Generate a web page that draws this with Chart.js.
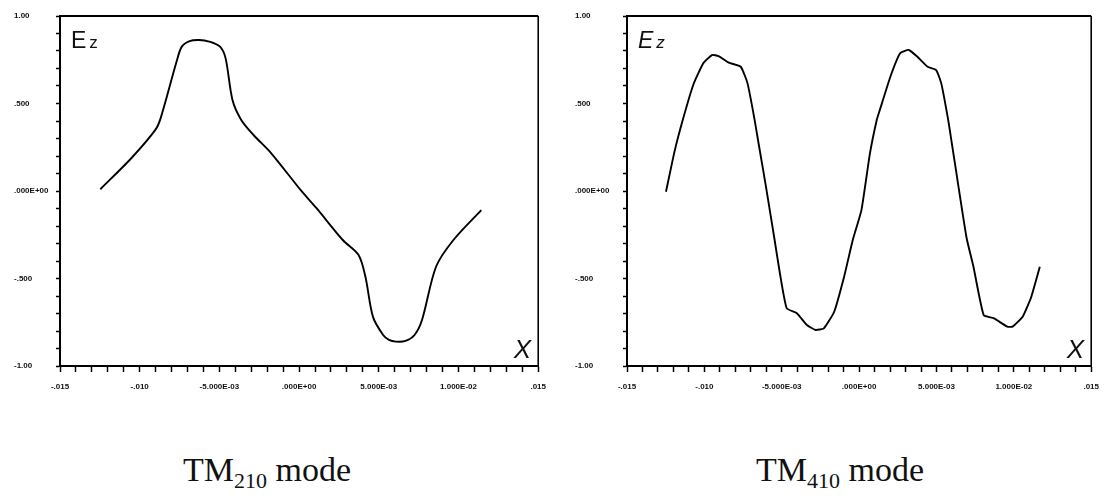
<!DOCTYPE html>
<html>
<head>
<meta charset="utf-8">
<script src="https://cdn.jsdelivr.net/npm/chart.js@4.4.1/dist/chart.umd.min.js"></script>
<style>
  html, body { margin: 0; padding: 0; background: #fff; width: 1109px; height: 502px; overflow: hidden; }
  .box { position: absolute; top: 0; height: 410px; }
  .cap { position: absolute; top: 451px; font-family: "Liberation Serif", "DejaVu Serif", serif; font-size: 34px; color: #111; white-space: nowrap; }
  .cap sub { font-size: 22px; vertical-align: -7px; line-height: 0; }
</style>
</head>
<body>
<div class="box" style="left:0;width:556px;"><canvas id="c1" width="556" height="410"></canvas></div>
<div class="box" style="left:556px;width:553px;"><canvas id="c2" width="553" height="410"></canvas></div>
<div class="cap" style="left:183px;">TM<sub>210</sub> mode</div>
<div class="cap" style="left:756px;">TM<sub>410</sub> mode</div>
<script>
// ---- data ----
const xTickLabels = ['-.015', '-.010', '-5.000E-03', '.000E+00', '5.000E-03', '1.000E-02', '.015'];
const yTickLabels = ['-1.00', '-.500', '.000E+00', '.500', '1.00'];
const captions = ['TM210 mode', 'TM410 mode'];

const leftX = [-0.01247, -0.01050, -0.00902, -0.00869, -0.00769, -0.00736, -0.00687, -0.00627, -0.00564, -0.00496, -0.00461, -0.00418, -0.00363, -0.00286, -0.00176, 0.00009, 0.00108, 0.00274, 0.00373, 0.00416, 0.00463, 0.00527, 0.00564, 0.00607, 0.00668, 0.00724, 0.00771, 0.00859, 0.00968, 0.01143];
const leftY = [0.010, 0.190, 0.349, 0.415, 0.739, 0.825, 0.857, 0.863, 0.854, 0.825, 0.758, 0.520, 0.406, 0.320, 0.217, 0.006, -0.097, -0.280, -0.366, -0.490, -0.718, -0.823, -0.851, -0.861, -0.857, -0.823, -0.737, -0.433, -0.280, -0.109];

const rightX = [-0.01248, -0.01193, -0.01138, -0.01072, -0.01007, -0.00951, -0.00908, -0.00842, -0.00765, -0.00721, -0.00677, -0.00646, -0.00602, -0.00546, -0.00512, -0.00468, -0.00402, -0.00337, -0.00282, -0.00228, -0.00161, -0.00097, -0.00041, 0.00015, 0.00070, 0.00114, 0.00134, 0.00202, 0.00265, 0.00321, 0.00377, 0.00443, 0.00498, 0.00531, 0.00574, 0.00596, 0.00639, 0.00695, 0.00739, 0.00805, 0.00870, 0.00957, 0.00992, 0.01057, 0.01113, 0.01168];
const rightY = [-0.004, 0.225, 0.411, 0.606, 0.730, 0.777, 0.771, 0.733, 0.710, 0.615, 0.415, 0.253, 0.025, -0.280, -0.470, -0.670, -0.699, -0.766, -0.794, -0.785, -0.690, -0.490, -0.280, -0.109, 0.215, 0.406, 0.463, 0.653, 0.787, 0.806, 0.767, 0.710, 0.691, 0.615, 0.415, 0.291, 0.044, -0.270, -0.433, -0.709, -0.727, -0.775, -0.775, -0.718, -0.604, -0.433];

// ---- drawing ----
const tickFont = { family: 'Liberation Sans, Arial, sans-serif', size: 8, weight: 'bold' };

function framePlugin(italic) {
  return {
    id: 'frame',
    afterDraw(chart) {
      const a = chart.chartArea, ctx = chart.ctx;
      ctx.save();
      ctx.strokeStyle = '#000';
      ctx.lineWidth = 2.2;
      ctx.beginPath(); ctx.moveTo(a.left, a.top); ctx.lineTo(a.right, a.top); ctx.stroke();
      ctx.lineWidth = 1.6;
      ctx.beginPath(); ctx.moveTo(a.right, a.top); ctx.lineTo(a.right, a.bottom); ctx.stroke();
      ctx.fillStyle = '#111';
      ctx.textBaseline = 'alphabetic';
      ctx.font = (italic ? 'italic ' : '') + '23px "Liberation Sans", Arial, sans-serif';
      ctx.fillText('E', a.left + 11, a.top + 32);
      const ew = ctx.measureText('E').width;
      ctx.font = (italic ? 'italic ' : '') + '17px "Liberation Sans", Arial, sans-serif';
      ctx.fillText('z', a.left + 14 + ew, a.top + 32);
      ctx.font = 'italic 26px "Liberation Sans", Arial, sans-serif';
      ctx.textAlign = 'right';
      ctx.fillText('X', a.right - 7, a.bottom - 8);
      ctx.restore();
    }
  };
}

function makeChart(id, xs, ys, padLeft, yWidth, padRight, italic, tension) {
  const pts = xs.map((x, i) => ({ x: x, y: ys[i] }));
  return new Chart(document.getElementById(id), {
    type: 'line',
    data: { datasets: [{ data: pts, borderColor: '#000', borderWidth: 1.9, pointRadius: 0, tension: tension, fill: false }] },
    options: {
      responsive: false,
      animation: false,
      events: [],
      layout: { padding: { left: padLeft, right: padRight, top: 16, bottom: 0 } },
      plugins: { legend: { display: false }, tooltip: { enabled: false } },
      scales: {
        x: {
          type: 'linear', min: -0.015, max: 0.015,
          afterFit(s) { s.height = 44; },
          border: { display: true, color: '#000', width: 2 },
          grid: { display: true, drawOnChartArea: false, drawTicks: true, tickLength: 6, color: '#000', tickWidth: 1.5 },
          ticks: {
            stepSize: 0.001, autoSkip: false, minRotation: 0, maxRotation: 0, padding: 10,
            color: '#111', font: tickFont,
            callback(v) {
              const k = Math.round(v * 1000);
              return (k % 5 === 0) ? xTickLabels[(k + 15) / 5] : '';
            }
          }
        },
        y: {
          type: 'linear', min: -1, max: 1,
          afterFit(s) { s.width = yWidth; },
          border: { display: true, color: '#000', width: 2 },
          grid: { display: true, drawOnChartArea: false, drawTicks: true, tickLength: 4, color: '#000', tickWidth: 1.5 },
          ticks: {
            stepSize: 0.1, autoSkip: false, crossAlign: 'far', padding: 4,
            color: '#111', font: tickFont,
            callback(v) {
              const k = Math.round(v * 10);
              return (k % 5 === 0) ? yTickLabels[(k + 10) / 5] : '';
            }
          }
        }
      }
    },
    plugins: [framePlugin(italic)]
  });
}

makeChart('c1', leftX, leftY, 14, 46, 9, false, 0.3);
makeChart('c2', rightX, rightY, 19, 52, 1, true, 0.15);
</script>
</body>
</html>
